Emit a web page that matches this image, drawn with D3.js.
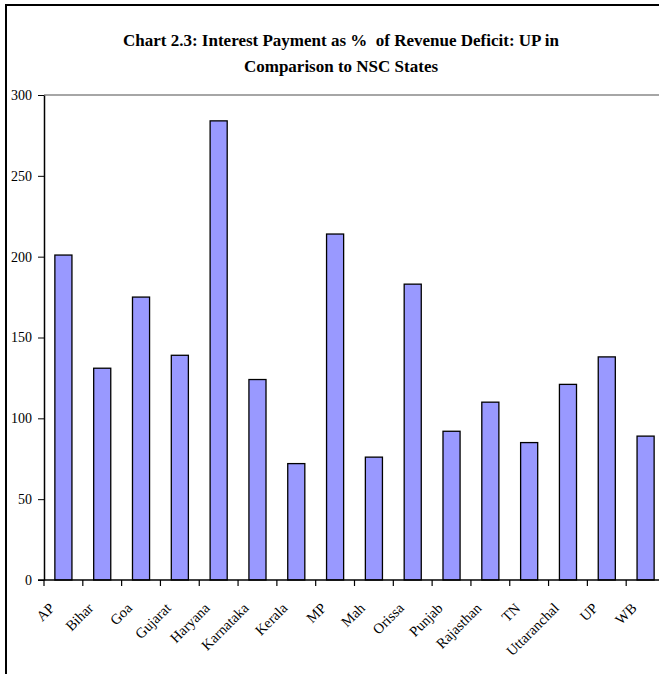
<!DOCTYPE html>
<html>
<head>
<meta charset="utf-8">
<script src="https://cdn.jsdelivr.net/npm/d3@7"></script>
<style>
  body { margin: 0; background: #fff; }
  text { font-family: "Liberation Serif", "Times New Roman", serif; }
</style>
</head>
<body>
<div id="chart"></div>
<script>
// chart data
const states = ["AP", "Bihar", "Goa", "Gujarat", "Haryana", "Karnataka", "Kerala", "MP",
                "Mah", "Orissa", "Punjab", "Rajasthan", "TN", "Uttaranchal", "UP", "WB"];
const interestPct = [201, 131, 175, 139, 284, 124, 72, 214, 76, 183, 92, 110, 85, 121, 138, 89];
const yTicks = [0, 50, 100, 150, 200, 250, 300];
const titleLines = ["Chart 2.3: Interest Payment as %  of Revenue Deficit: UP in",
                    "Comparison to NSC States"];

const width = 659, height = 674;
const plotLeft = 44, plotRight = 665, plotTop = 95, plotBottom = 580;

const svg = d3.select("#chart")
    .append("svg")
    .attr("width", width)
    .attr("height", height);

// outer frame (left and top edges visible)
svg.append("line").attr("x1", 6).attr("x2", 6).attr("y1", 4).attr("y2", height)
    .attr("stroke", "#000").attr("stroke-width", 2);
svg.append("line").attr("x1", 5).attr("x2", width).attr("y1", 5).attr("y2", 5)
    .attr("stroke", "#000").attr("stroke-width", 2);

// title
svg.append("text")
    .attr("text-anchor", "middle")
    .attr("font-weight", "bold")
    .attr("font-size", 17)
    .style("white-space", "pre")
    .selectAll("tspan")
    .data(titleLines)
    .enter().append("tspan")
    .attr("x", 341)
    .attr("y", (d, i) => 46 + i * 26)
    .text(d => d);

// scales
const xScale = d3.scaleBand()
    .domain(states)
    .range([plotLeft, plotRight]);

const yScale = d3.scaleLinear()
    .domain([0, 300])
    .range([plotBottom, plotTop]);

// top border of plot area
svg.append("line")
    .attr("x1", plotLeft).attr("x2", width)
    .attr("y1", yScale(300)).attr("y2", yScale(300))
    .attr("stroke", "#888").attr("stroke-width", 1.5);

// bars
const barW = xScale.bandwidth() * 0.44;
svg.selectAll("rect.bar")
    .data(interestPct)
    .enter().append("rect")
    .attr("class", "bar")
    .attr("x", (d, i) => xScale(states[i]) + (xScale.bandwidth() - barW) / 2)
    .attr("y", d => yScale(d))
    .attr("width", barW)
    .attr("height", d => yScale(0) - yScale(d))
    .attr("fill", "#9999FF")
    .attr("stroke", "#000")
    .attr("stroke-width", 1.3);

// y axis
const yAxis = svg.append("g")
    .attr("transform", `translate(${plotLeft},0)`)
    .call(d3.axisLeft(yScale).tickValues(yTicks).tickSize(6).tickSizeOuter(0).tickPadding(6));
yAxis.select(".domain").attr("stroke", "#000").attr("stroke-width", 1.5);
yAxis.selectAll("text").attr("font-size", 14).attr("fill", "#000")
    .style("font-family", "Liberation Serif, serif");

// x axis: ticks at band boundaries
const xAxis = svg.append("g")
    .attr("transform", `translate(0,${plotBottom})`);
xAxis.append("line")
    .attr("x1", plotLeft - 6).attr("x2", width)
    .attr("stroke", "#000").attr("stroke-width", 1.5);
xAxis.selectAll("line.tick")
    .data(states)
    .enter().append("line")
    .attr("class", "tick")
    .attr("x1", d => xScale(d)).attr("x2", d => xScale(d))
    .attr("y1", 0).attr("y2", 6)
    .attr("stroke", "#000").attr("stroke-width", 1.2);
xAxis.selectAll("text")
    .data(states)
    .enter().append("text")
    .attr("transform", d => `translate(${xScale(d) + xScale.bandwidth() / 2 - 8},${29}) rotate(-45)`)
    .attr("text-anchor", "end")
    .attr("font-size", 14.5)
    .text(d => d);
</script>
</body>
</html>
